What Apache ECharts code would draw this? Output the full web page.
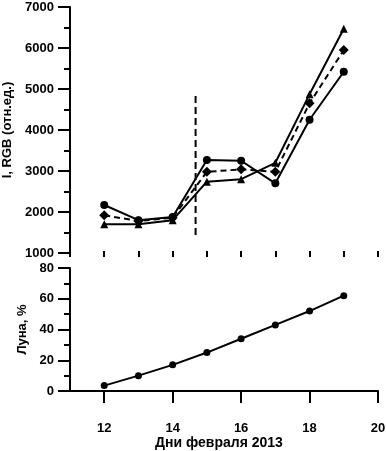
<!DOCTYPE html>
<html lang="ru">
<head>
  <meta charset="UTF-8">
  <title>I, RGB и Луна</title>
  <style>
    html, body { margin: 0; padding: 0; background: #fff; }
    #chart { width: 386px; height: 451px; }
  </style>
</head>
<body>
  <div id="chart"></div>
  <script src="https://cdn.jsdelivr.net/npm/echarts@6/dist/echarts.min.js"></script>
  <script>
    // дни февраля 2013
    var days = [12, 13, 14, 15, 16, 17, 18, 19]
    // I, RGB (отн.ед.)
    var circleVals = [2170, 1800, 1880, 3270, 3250, 2700, 4250, 5420]
    var diamondVals = [1920, 1780, 1860, 2980, 3040, 2980, 4650, 5950]
    var triangleVals = [1700, 1700, 1800, 2740, 2800, 3200, 4870, 6470]
    // Луна, %
    var moonVals = [3.5, 10, 17, 25, 34, 43, 52, 62]
    // вертикальная пунктирная линия
    var markDay = 14.67
    var markRange = [4830, 1350]
    var xMajorTicks = [12, 14, 16, 18, 20]

    function pairs(xs, ys) {
      return xs.map(function (x, i) { return [x, ys[i]] })
    }
    function plain(v) { return String(v) }

    var font = 'Liberation Sans'
    var lbl = { color: '#000', fontFamily: font, fontWeight: 'bold', fontSize: 13 }
    var axLine = { show: true, lineStyle: { color: '#000', width: 2 } }

    var chart = echarts.init(document.getElementById('chart'))
    var option = {
      animation: false,
      grid: [
        { left: 70, right: 8, top: 7, height: 246, containLabel: false, outerBoundsMode: 'none' },
        { left: 70, right: 8, top: 268, height: 123, containLabel: false, outerBoundsMode: 'none' }
      ],
      xAxis: [
        {
          gridIndex: 0, type: 'value', min: 11, max: 20, interval: 1,
          axisLine: { show: false }, axisTick: { show: false },
          axisLabel: { show: false }, splitLine: { show: false }
        },
        {
          gridIndex: 1, type: 'value', min: 11, max: 20, interval: 1,
          offset: 11,
          axisLine: axLine,
          splitLine: { show: false },
          axisTick: { show: true, length: 12, customValues: xMajorTicks, lineStyle: { width: 2 } },
          axisLabel: Object.assign({ customValues: xMajorTicks, margin: 20, formatter: plain }, lbl),
          name: 'Дни февраля 2013',
          nameLocation: 'middle',
          nameGap: 33,
          nameTextStyle: Object.assign({}, lbl, { fontSize: 14, padding: [0, 10, 0, 0] })
        },
        {
          gridIndex: 1, type: 'value', min: 11, max: 20, interval: 1,
          offset: 11,
          axisLine: { show: false },
          splitLine: { show: false },
          axisTick: { show: true, length: 6, lineStyle: { color: '#000', width: 2 } },
          axisLabel: { show: false }
        }
      ],
      yAxis: [
        {
          gridIndex: 0, type: 'value', min: 1000, max: 7000, interval: 1000,
          axisLine: axLine,
          splitLine: { show: false },
          axisTick: { show: true, length: 12, lineStyle: { width: 2 } },
          minorTick: { show: true, splitNumber: 2, length: 6, lineStyle: { color: '#000', width: 2 } },
          axisLabel: Object.assign({ margin: 16, formatter: plain }, lbl),
          name: 'I, RGB (отн.ед.)',
          nameLocation: 'middle',
          nameRotate: 90,
          nameGap: 52,
          nameTextStyle: lbl
        },
        {
          gridIndex: 1, type: 'value', min: 0, max: 80, interval: 20,
          axisLine: axLine,
          splitLine: { show: false },
          axisTick: { show: true, length: 12, lineStyle: { width: 2 } },
          minorTick: { show: true, splitNumber: 2, length: 6, lineStyle: { color: '#000', width: 2 } },
          axisLabel: Object.assign({ margin: 16, formatter: plain }, lbl),
          name: 'Луна, %',
          nameLocation: 'middle',
          nameRotate: 90,
          nameGap: 29,
          nameTextStyle: lbl
        }
      ],
      series: [
        {
          type: 'line', xAxisIndex: 0, yAxisIndex: 0,
          data: pairs(days, circleVals),
          symbol: 'circle', symbolSize: 8,
          lineStyle: { color: '#000', width: 2 },
          itemStyle: { color: '#000' }
        },
        {
          type: 'line', xAxisIndex: 0, yAxisIndex: 0,
          data: pairs(days, diamondVals),
          symbol: 'diamond', symbolSize: 10,
          lineStyle: { color: '#000', width: 2, type: [6, 4] },
          itemStyle: { color: '#000' }
        },
        {
          type: 'line', xAxisIndex: 0, yAxisIndex: 0,
          data: pairs(days, triangleVals),
          symbol: 'triangle', symbolSize: 8,
          lineStyle: { color: '#000', width: 2 },
          itemStyle: { color: '#000' }
        },
        {
          type: 'line', xAxisIndex: 0, yAxisIndex: 0,
          data: [[markDay, markRange[0]], [markDay, markRange[1]]],
          symbol: 'none',
          lineStyle: { color: '#000', width: 2, type: [7, 4] }
        },
        {
          type: 'line', xAxisIndex: 1, yAxisIndex: 1,
          data: pairs(days, moonVals),
          symbol: 'circle', symbolSize: 7,
          lineStyle: { color: '#000', width: 2 },
          itemStyle: { color: '#000' }
        }
      ]
    }
    chart.setOption(option)
  </script>
</body>
</html>
